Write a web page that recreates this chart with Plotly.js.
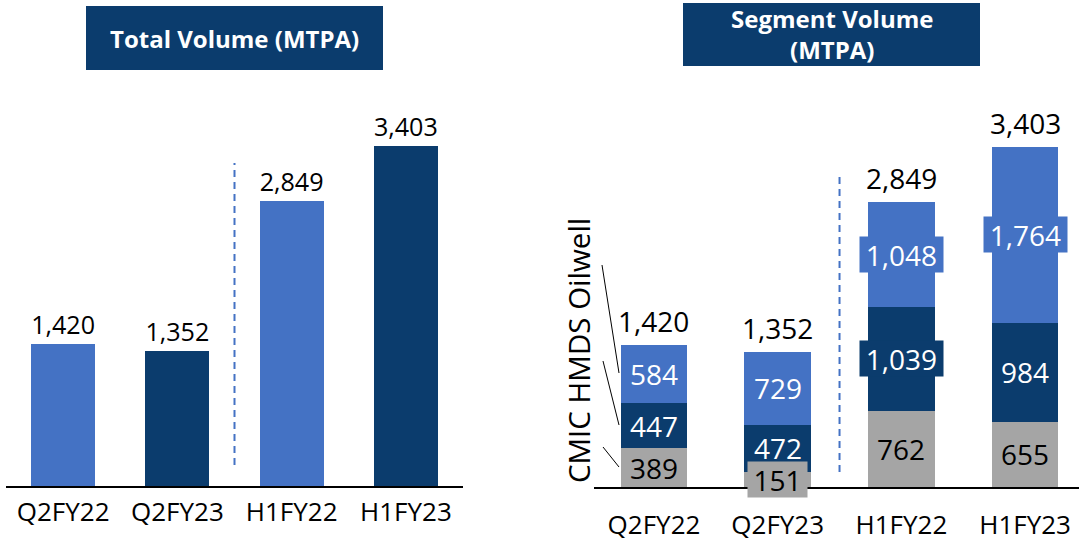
<!DOCTYPE html>
<html>
<head>
<meta charset="utf-8">
<script src="https://cdn.plot.ly/plotly-3.0.1.min.js"></script>
<style>html,body{margin:0;padding:0;background:#fff;}#chart{width:1079px;height:541px;}</style>
</head>
<body>
<div id="chart"></div>
<script>
// ---- data ----
const categories = ['Q2FY22', 'Q2FY23', 'H1FY22', 'H1FY23'];
const totalVolume = [1420, 1352, 2849, 3403];
const cmic = [389, 151, 762, 655];
const hmds = [447, 472, 1039, 984];
const oilwell = [584, 729, 1048, 1764];
const segmentNames = ['CMIC', 'HMDS', 'Oilwell'];
const leftTitle = 'Total Volume (MTPA)';
const rightTitle = 'Segment Volume<br>(MTPA)';

// ---- style ----
const W = 1079, H = 541;
const LIGHT = '#4472C4', DARK = '#0B3C6D', GRAY = '#A5A5A5';
const FONT = 'Open Sans, Noto Sans, sans-serif';
const px = v => v / W;
const py = v => 1 - v / H;
const fmt = v => v.toLocaleString('en-US');

const leftColors = [LIGHT, DARK, LIGHT, DARK];
const segColors = [GRAY, DARK, LIGHT];
const segTextColors = ['#000', '#fff', '#fff'];
// which segment labels carry a filled box behind them
const boxed = {CMIC: ['Q2FY23'], HMDS: ['H1FY22'], Oilwell: ['H1FY22', 'H1FY23']};
const LABEL_SIZE = 28;

const traces = [];
traces.push({
  type: 'bar', x: categories, y: totalVolume, xaxis: 'x', yaxis: 'y',
  marker: {color: leftColors, line: {width: 0}}, width: 0.56,
  text: totalVolume.map(fmt), textposition: 'outside', cliponaxis: false,
  textfont: {family: FONT, size: LABEL_SIZE, color: '#000'}, hoverinfo: 'x+y', showlegend: false
});
const segs = [cmic, hmds, oilwell];
segs.forEach((vals, k) => {
  traces.push({
    type: 'bar', x: categories, y: vals, xaxis: 'x2', yaxis: 'y2', name: segmentNames[k],
    marker: {color: segColors[k], line: {width: 0}}, width: 0.54, showlegend: false
  });
});

const annotations = [];
const shapes = [];
// segment labels
const base = categories.map(() => 0);
segs.forEach((vals, k) => {
  vals.forEach((v, i) => {
    const label = fmt(v);
    const mid = base[i] + v / 2;
    const isBoxed = boxed[segmentNames[k]].includes(categories[i]);
    const a = {
      xref: 'x2', yref: 'y2', x: categories[i], y: mid,
      text: label, showarrow: false,
      font: {family: FONT, size: LABEL_SIZE, color: segTextColors[k]},
      xanchor: 'center', yanchor: 'middle'
    };
    if (isBoxed) {
      Object.assign(a, {bgcolor: segColors[k], borderpad: 0, width: label.length * 12 + 23, height: 35, align: 'center', valign: 'middle'});
    }
    annotations.push(a);
    base[i] += v;
  });
});
// totals on right
base.forEach((t, i) => {
  annotations.push({
    xref: 'x2', yref: 'y2', x: categories[i], y: t, text: fmt(t), showarrow: false,
    font: {family: FONT, size: LABEL_SIZE, color: '#000'}, yanchor: 'bottom', yshift: 3
  });
});
// titles
annotations.push({xref: 'paper', yref: 'paper', x: px(234.5), y: py(38), text: '<b>' + leftTitle + '</b>',
  showarrow: false, font: {family: FONT, size: 24, color: '#fff'}, xanchor: 'center', yanchor: 'middle'});
annotations.push({xref: 'paper', yref: 'paper', x: px(831.5), y: py(34), text: '<b>' + rightTitle + '</b>',
  showarrow: false, font: {family: FONT, size: 24, color: '#fff'}, xanchor: 'center', yanchor: 'middle'});
// rotated segment names
annotations.push({xref: 'paper', yref: 'paper', x: px(578), y: py(351), text: segmentNames.join(' '),
  showarrow: false, textangle: -90, font: {family: FONT, size: 29.5, color: '#000'}, xanchor: 'center', yanchor: 'middle'});

shapes.push(
  {type: 'rect', xref: 'paper', yref: 'paper', x0: px(86), x1: px(383), y0: py(6), y1: py(70), fillcolor: DARK, line: {width: 0}, layer: 'below'},
  {type: 'rect', xref: 'paper', yref: 'paper', x0: px(683), x1: px(980), y0: py(3), y1: py(66), fillcolor: DARK, line: {width: 0}, layer: 'below'},
  {type: 'line', xref: 'x', yref: 'y', x0: 1.5, x1: 1.5, y0: 210, y1: 3230, line: {color: LIGHT, width: 2, dash: '7px,5px'}},
  {type: 'line', xref: 'x2', yref: 'y2', x0: 1.5, x1: 1.5, y0: 150, y1: 3150, line: {color: LIGHT, width: 2, dash: '7px,5px'}},
  {type: 'line', xref: 'paper', yref: 'paper', x0: px(602), y0: py(265), x1: px(619), y1: py(373), line: {color: '#000', width: 1}},
  {type: 'line', xref: 'paper', yref: 'paper', x0: px(603), y0: py(361), x1: px(619), y1: py(425), line: {color: '#000', width: 1}},
  {type: 'line', xref: 'paper', yref: 'paper', x0: px(603), y0: py(447), x1: px(619), y1: py(467), line: {color: '#000', width: 1}}
);

const xCommon = {
  type: 'category', showline: true, linecolor: '#000', linewidth: 2, showgrid: false, zeroline: false,
  ticks: 'outside', tickcolor: 'rgba(0,0,0,0)', tickfont: {family: FONT, size: 26, color: '#000'}, fixedrange: true
};
const yCommon = {range: [0, 4000], visible: false, showgrid: false, zeroline: false, fixedrange: true};

const layout = {
  width: W, height: H, margin: {l: 0, r: 0, t: 0, b: 0},
  paper_bgcolor: '#fff', plot_bgcolor: 'rgba(0,0,0,0)',
  barmode: 'stack', showlegend: false,
  xaxis: Object.assign({}, xCommon, {domain: [px(6), px(463)], range: [-0.5, 3.5], anchor: 'y', ticklen: 2}),
  yaxis: Object.assign({}, yCommon, {domain: [55 / H, 455 / H], anchor: 'x'}),
  xaxis2: Object.assign({}, xCommon, {domain: [px(594), 1], range: [-0.485, 3.436], anchor: 'y2', ticklen: 14}),
  yaxis2: Object.assign({}, yCommon, {domain: [54 / H, 454 / H], anchor: 'x2'}),
  annotations: annotations, shapes: shapes,
  font: {family: FONT}
};

Plotly.newPlot('chart', traces, layout, {displayModeBar: false, staticPlot: true});
</script>
</body>
</html>
